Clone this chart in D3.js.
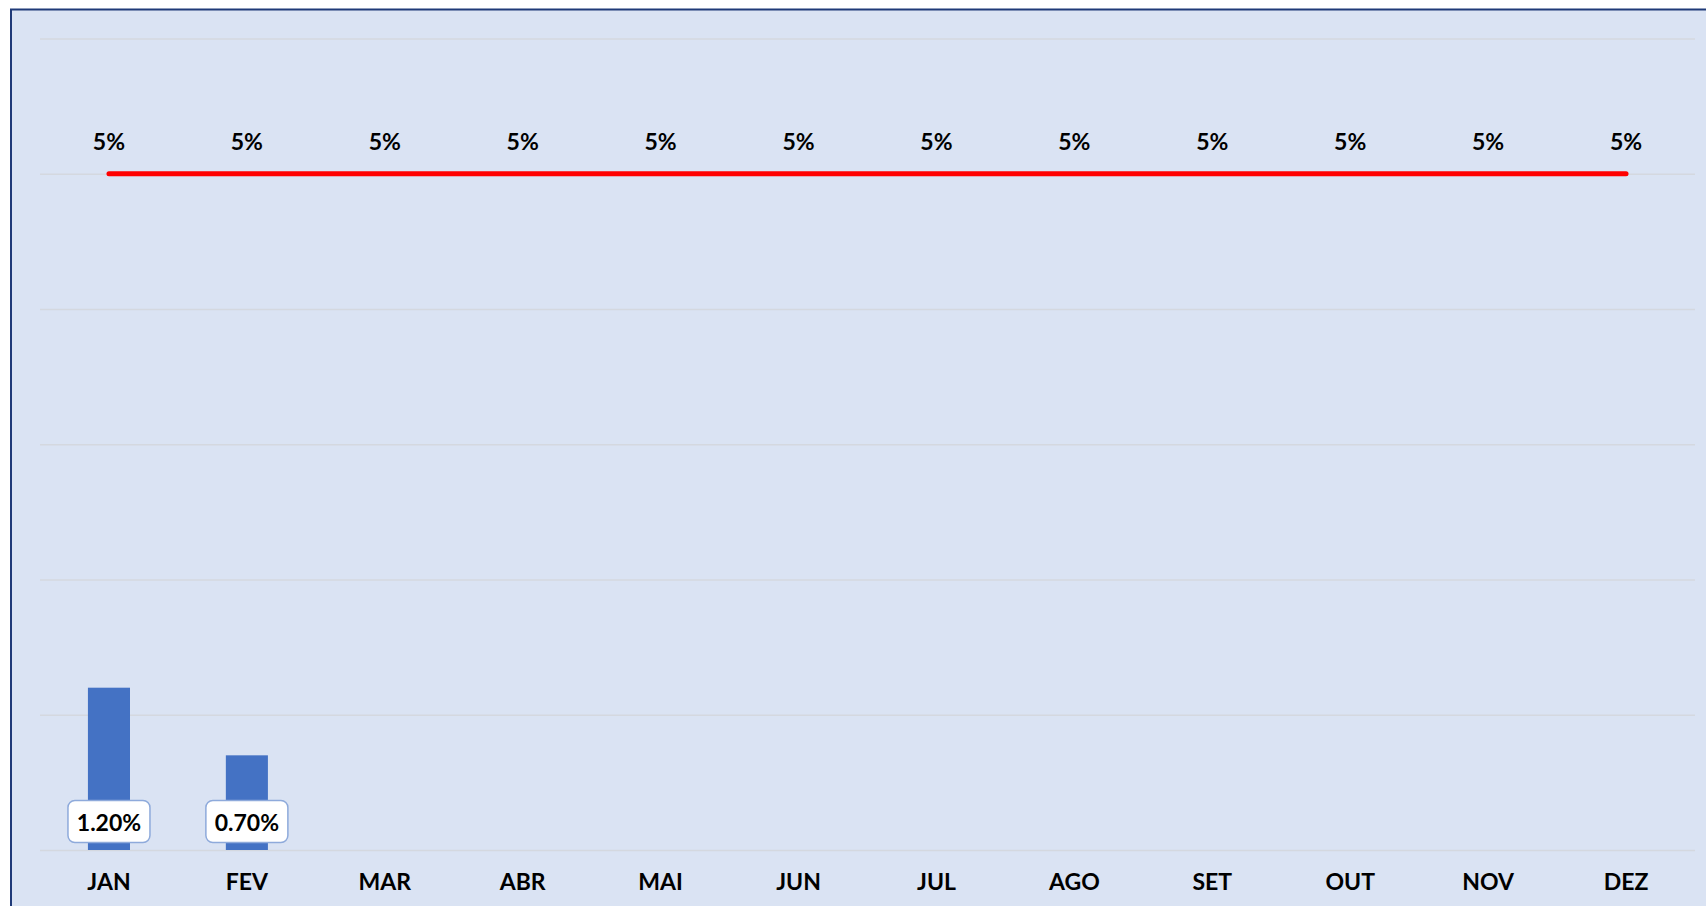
<!DOCTYPE html>
<html>
	<head>
		<meta charset="UTF-8">
		<title>Realizado x Meta</title>
		<script src="https://cdn.jsdelivr.net/npm/d3@7/dist/d3.min.js"></script>
		<style type="text/css">
			body{margin:0;background:#fff;}
			svg{display:block;}
			text{font-family:Lato,"Open Sans",sans-serif;font-weight:700;fill:#000;}
		</style>
	</head>
	<body>
		<script type="text/javascript">
			var meses = ["JAN","FEV","MAR","ABR","MAI","JUN","JUL","AGO","SET","OUT","NOV","DEZ"];
			var realizado = [1.2, 0.7, null, null, null, null, null, null, null, null, null, null];
			var meta = [5, 5, 5, 5, 5, 5, 5, 5, 5, 5, 5, 5];
			var yTicks = [0, 1, 2, 3, 4, 5, 6];

			var w = 1706;
			var h = 906;
			var pLeft = 40, pRight = 1695;  //area de plotagem
			var pTop = 38.5, pBottom = 850;

			var svg = d3.select("body")
			.append("svg")
			.attr("width", w)
			.attr("height", h);

			//fundo e borda do grafico
			svg.append("rect")
			.attr("x", 11)
			.attr("y", 9.5)
			.attr("width", w + 20)
			.attr("height", h + 20)
			.attr("fill", "#dae3f3")
			.attr("stroke", "#1f3a78")
			.attr("stroke-width", 2);

			var x = d3.scaleBand()
			.domain(meses)
			.range([pLeft, pRight])
			.paddingInner(0.695)
			.paddingOuter(0.3475);

			var y = d3.scaleLinear()
			.domain([0, 6])
			.range([pBottom, pTop]);

			function cx(m){ return x(m) + x.bandwidth() / 2; }

			//linhas de grade
			var grid = svg.append("g")
			.attr("class", "grid")
			.attr("transform", "translate(" + pLeft + ",0)")
			.call(d3.axisLeft(y).tickValues(yTicks).tickSize(-(pRight - pLeft)).tickFormat(""));
			grid.select(".domain").remove();
			grid.selectAll("line").attr("stroke", "#d4d8df").attr("stroke-width", 1.5);

			//barras
			var dadosBarras = meses.map(function(m, i){ return {mes: m, v: realizado[i]}; })
			.filter(function(d){ return d.v != null; });

			svg.append("g")
			.selectAll("rect")
			.data(dadosBarras)
			.enter()
			.append("rect")
			.attr("x", function(d){ return x(d.mes); })
			.attr("y", function(d){ return y(d.v); })
			.attr("width", x.bandwidth())
			.attr("height", function(d){ return y(0) - y(d.v); })
			.attr("fill", "#4472c4");

			//linha da meta
			var linha = d3.line()
			.x(function(d, i){ return cx(meses[i]); })
			.y(function(d){ return y(d); });

			svg.append("path")
			.datum(meta)
			.attr("d", linha)
			.attr("fill", "none")
			.attr("stroke", "#ff0000")
			.attr("stroke-width", 5)
			.attr("stroke-linecap", "round");

			//rotulos da meta
			svg.append("g")
			.selectAll("text")
			.data(meta)
			.enter()
			.append("text")
			.attr("x", function(d, i){ return cx(meses[i]); })
			.attr("y", function(d){ return y(d) - 24; })
			.attr("text-anchor", "middle")
			.attr("font-size", "23px")
			.text(function(d){ return d + "%"; });

			//rotulos das barras
			var rot = svg.append("g")
			.selectAll("g")
			.data(dadosBarras)
			.enter()
			.append("g")
			.attr("transform", function(d){ return "translate(" + cx(d.mes) + "," + (y(0) - 28.5) + ")"; });

			rot.append("rect")
			.attr("x", -41)
			.attr("y", -21)
			.attr("width", 82)
			.attr("height", 42)
			.attr("rx", 7)
			.attr("fill", "#fff")
			.attr("stroke", "#8eaadb")
			.attr("stroke-width", 1.5);

			rot.append("text")
			.attr("text-anchor", "middle")
			.attr("y", 9)
			.attr("font-size", "23px")
			.text(function(d){ return d3.format(".2f")(d.v) + "%"; });

			//eixo dos meses
			var xAxis = svg.append("g")
			.attr("transform", "translate(0," + pBottom + ")")
			.call(d3.axisBottom(x).tickSize(0).tickPadding(24));
			xAxis.select(".domain").remove();
			xAxis.selectAll("text")
			.attr("font-size", "23px")
			.attr("font-family", "Lato, 'Open Sans', sans-serif")
			.attr("font-weight", 700)
			.attr("fill", "#000");
		</script>
	</body>
</html>
